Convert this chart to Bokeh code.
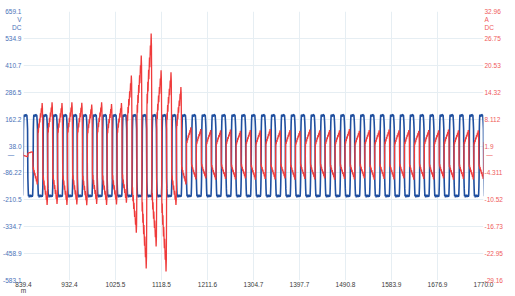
from bokeh.plotting import figure
from bokeh.models import Range1d, LinearAxis, FixedTicker
from bokeh.embed import file_html
from bokeh.resources import INLINE

# ---- axes ----
x_ticks = [839.4, 932.4, 1025.5, 1118.5, 1211.6, 1304.7, 1397.7, 1490.8, 1583.9, 1676.9, 1770.0]
x_labels = ["839.4\nm", "932.4", "1025.5", "1118.5", "1211.6", "1304.7", "1397.7", "1490.8", "1583.9", "1676.9", "1770.0"]
v_ticks = [659.1, 534.9, 410.7, 286.5, 162.2, 38.0, -86.22, -210.5, -334.7, -458.9, -583.1]
v_labels = ["659.1", "534.9", "410.7", "286.5", "162.2", "38.0", "-86.22", "-210.5", "-334.7", "-458.9", "-583.1"]
a_ticks = [32.96, 26.75, 20.53, 14.32, 8.112, 1.9, -4.311, -10.52, -16.73, -22.95, -29.16]
a_labels = ["32.96", "26.75", "20.53", "14.32", "8.112", "1.9", "-4.311", "-10.52", "-16.73", "-22.95", "-29.16"]
# unit captions under the top tick labels, and the zero-level marks
v_units = {622.0: "V", 583.0: "DC", 0.0: "\u2014\u00a0\u00a0\u00a0\u00a0"}
a_units = {31.1, 29.2}
a_units = {31.1: "A", 29.2: "DC", 0.0: "\u00a0\u2014"}

# ---- voltage ----
v_start = 837.8          # ms, first rising edge of the voltage
period = 20.05           # ms
v_cycles = 47
# one voltage period: phase (fraction of period) and volts
v_phase = [0.00, 0.03, 0.05, 0.07, 0.09, 0.12, 0.18, 0.25, 0.30, 0.36, 0.42,
           0.46, 0.49, 0.52, 0.55, 0.58, 0.62, 0.66, 0.70, 0.75, 0.80, 0.86, 0.92, 0.96]
v_volts = [-190, -150, -100, 110, 150, 182, 178, 174, 184, 181, 180,
           150, 115, -110, -160, -194, -186, -199, -188, -198, -187, -197, -189, -196]

# ---- current ----
i_start = 828.4          # ms, rising edge of the first current period
i_cycles = 48
# one current period from its rising edge: phase and normalised value
i_phase = [0.00, 0.02, 0.05, 0.09, 0.12, 0.17, 0.20, 0.26, 0.29, 0.35, 0.38, 0.43, 0.46, 0.48,
           0.50, 0.52, 0.55, 0.59, 0.62, 0.67, 0.70, 0.76, 0.79, 0.85, 0.88, 0.93, 0.96, 0.98]
i_shape = [0.35, 0.5, 0.42, 0.6, 0.52, 0.7, 0.62, 0.8, 0.72, 0.9, 0.82, 1.0, 0.9, 0.55,
           -0.35, -0.5, -0.42, -0.6, -0.52, -0.7, -0.62, -0.8, -0.72, -0.9, -0.82, -1.0, -0.9, -0.55]
# per-period positive and negative current peaks (A)
i_high = [0.6, 0.6, 11.8, 12.0, 11.8, 12.0, 11.9, 11.5, 12.0, 11.6, 11.8,
          18.2, 22.8, 27.9, 19.4, 18.9, 15.5, 6.2, 5.8, 5.6, 5.5,
          5.7, 5.4, 5.6, 5.5, 5.8, 5.5, 5.6, 5.4, 5.7, 5.5,
          5.6, 5.5, 5.8, 5.4, 5.6, 5.5, 5.7, 5.5, 5.6, 5.4,
          5.6, 5.5, 5.7, 5.5, 5.6, 5.5, 5.6]
i_low = [-0.6, -7.0, -11.7, -11.5, -11.7, -11.6, -11.8, -11.5, -11.7, -11.6, -11.2,
         -18.1, -26.4, -21.3, -27.1, -11.7, -7.0, -5.8, -5.6, -5.9,
         -5.7, -5.8, -5.6, -5.9, -5.7, -5.8, -5.6, -5.9, -5.7, -5.8,
         -5.6, -5.9, -5.7, -5.8, -5.6, -5.9, -5.7, -5.8, -5.6, -5.9,
         -5.7, -5.8, -5.6, -5.9, -5.7, -5.8, -5.7, -5.8]

vt, vv = [], []
for k in range(v_cycles):
    base = v_start + k * period
    for ph, val in zip(v_phase, v_volts):
        vt.append(base + ph * period)
        vv.append(val)

it, iv = [], []
for j in range(i_cycles):
    base = i_start + j * period
    for ph, s in zip(i_phase, i_shape):
        it.append(base + ph * period)
        iv.append(s * i_high[j] if s >= 0 else -s * i_low[j])

# ---- figure ----
p = figure(width=505, height=296, output_backend="svg", toolbar_location=None,
           x_range=Range1d(839.4, 1770.0), y_range=Range1d(-583.1, 659.1),
           min_border_left=23, min_border_right=0, min_border_top=11, min_border_bottom=0,
           background_fill_color="white", border_fill_color="white", outline_line_color=None)
p.extra_y_ranges = {"amp": Range1d(-29.16, 32.96)}

font = "Liberation Sans"
lab_size = "6.5px"

p.xaxis.ticker = FixedTicker(ticks=x_ticks)
p.xaxis.major_label_overrides = dict(zip(x_ticks, x_labels))
p.yaxis.ticker = FixedTicker(ticks=v_ticks + list(v_units.keys()))
p.yaxis.major_label_overrides = {**dict(zip(v_ticks, v_labels)), **v_units}
for ax in (p.xaxis[0], p.yaxis[0]):
    ax.axis_line_color = None
    ax.major_tick_line_color = None
    ax.minor_tick_line_color = None
    ax.major_tick_out = 0
    ax.major_tick_in = 0
    ax.minor_tick_out = 0
    ax.minor_tick_in = 0
    ax.major_label_text_font = font
    ax.major_label_text_font_size = lab_size
    ax.major_label_standoff = 2
p.xaxis.major_label_text_color = "#3a3a3a"
p.xaxis.major_label_standoff = 0
p.xaxis.major_label_text_line_height = 0.9
p.yaxis.major_label_text_color = "#4a72b8"

ra = LinearAxis(y_range_name="amp", ticker=FixedTicker(ticks=a_ticks + list(a_units.keys())),
                major_label_overrides={**dict(zip(a_ticks, a_labels)), **a_units},
                axis_line_color=None, major_tick_line_color=None, minor_tick_line_color=None,
                major_tick_out=0, major_tick_in=0, minor_tick_out=0, minor_tick_in=0,
                major_label_text_font=font, major_label_text_font_size=lab_size,
                major_label_text_color="#ef5a5a", major_label_standoff=1)
p.add_layout(ra, "right")

p.xgrid.ticker = FixedTicker(ticks=x_ticks)
p.ygrid.ticker = FixedTicker(ticks=v_ticks)
p.xgrid.grid_line_color = "#e6eef3"
p.ygrid.grid_line_color = "#e6eef3"

p.line(vt, vv, line_color="#1f4f9f", line_width=1.6)
p.line(it, iv, line_color="#ef3b3b", line_width=1.3, y_range_name="amp")

open("out.html", "w").write(file_html(p, INLINE))
